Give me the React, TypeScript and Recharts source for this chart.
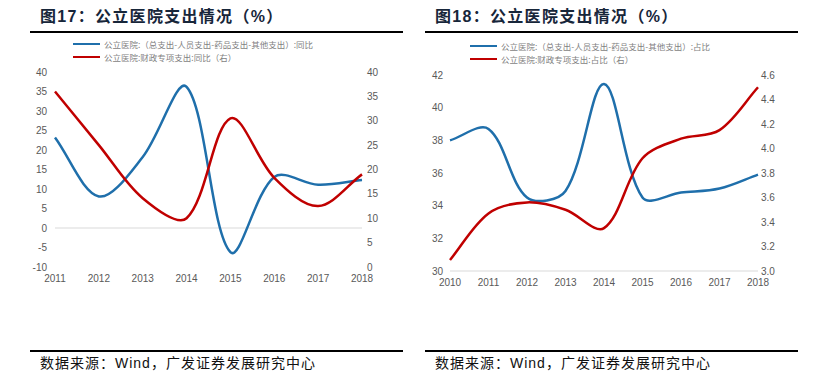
import React from 'react';
import { LineChart, Line, XAxis, YAxis, ReferenceLine } from 'recharts';

// 图17：同比（%）
const years17 = ['2011', '2012', '2013', '2014', '2015', '2016', '2017', '2018'];
const net17 = [23.2, 8.1, 18.2, 36.2, -6.2, 13.1, 11.1, 12.3];
const fiscal17 = [36, 25, 14.1, 10, 30.5, 18.3, 12.5, 19];
const leftTicks17 = [-10, -5, 0, 5, 10, 15, 20, 25, 30, 35, 40];
const rightTicks17 = [0, 5, 10, 15, 20, 25, 30, 35, 40];

// 图18：占比（%）
const years18 = ['2010', '2011', '2012', '2013', '2014', '2015', '2016', '2017', '2018'];
const net18 = [38.0, 38.7, 34.5, 34.9, 41.45, 34.5, 34.8, 35.05, 35.9];
const fiscal18 = [3.09, 3.47, 3.56, 3.5, 3.35, 3.92, 4.08, 4.15, 4.5];
const leftTicks18 = [30, 32, 34, 36, 38, 40, 42];
const rightTicks18 = [3.0, 3.2, 3.4, 3.6, 3.8, 4.0, 4.2, 4.4, 4.6];

const legendNet17 = '公立医院:（总支出-人员支出-药品支出-其他支出）:同比';
const legendFiscal17 = '公立医院:财政专项支出:同比（右）';
const legendNet18 = '公立医院:（总支出-人员支出-药品支出-其他支出）:占比';
const legendFiscal18 = '公立医院:财政专项支出:占比（右）';

const data17 = years17.map((y, i) => ({ year: y, net: net17[i], fiscal: fiscal17[i] }));
const data18 = years18.map((y, i) => ({ year: y, net: net18[i], fiscal: fiscal18[i] }));

const BLUE = '#1f6fab';
const RED = '#c00000';
const GREY = '#595959';
const tickStyle = { fontSize: 10, fill: GREY, fontFamily: '"Liberation Sans", Arial, sans-serif' };

// Excel 风格平滑线：控制点长度按相邻线段长度分配
const smooth = (context: any) => {
  let pts: number[][] = [];
  return {
    areaStart() {},
    areaEnd() {},
    lineStart() {
      pts = [];
    },
    point(x: number, y: number) {
      pts.push([+x, +y]);
    },
    lineEnd() {
      const n = pts.length;
      if (!n) return;
      const dist = (a: number[], b: number[]) => Math.hypot(b[0] - a[0], b[1] - a[1]);
      const outC: number[][] = [];
      const inC: number[][] = [];
      for (let i = 0; i < n; i++) {
        const prev = pts[i - 1] || pts[i];
        const next = pts[i + 1] || pts[i];
        const tx = next[0] - prev[0];
        const ty = next[1] - prev[1];
        const dPrev = dist(prev, pts[i]);
        const dNext = dist(pts[i], next);
        const sum = dPrev + dNext || 1;
        const fOut = dNext / sum / 3;
        const fIn = dPrev / sum / 3;
        outC.push([pts[i][0] + tx * fOut, pts[i][1] + ty * fOut]);
        inC.push([pts[i][0] - tx * fIn, pts[i][1] - ty * fIn]);
      }
      context.moveTo(pts[0][0], pts[0][1]);
      for (let i = 0; i < n - 1; i++) {
        context.bezierCurveTo(outC[i][0], outC[i][1], inC[i + 1][0], inC[i + 1][1], pts[i + 1][0], pts[i + 1][1]);
      }
    },
  };
};

const font = '"Liberation Sans", Arial, "Noto Sans CJK SC", sans-serif';

const Title = ({ left, text }: { left: number; text: string }) => (
  <div
    style={{
      position: 'absolute',
      left,
      top: 6,
      fontSize: 16,
      fontWeight: 'bold',
      color: '#17263a',
      fontFamily: font,
      letterSpacing: 1.3,
      whiteSpace: 'nowrap',
      lineHeight: '22px',
    }}
  >
    {text}
  </div>
);

const Rule = ({ left, width, top }: { left: number; width: number; top: number }) => (
  <div style={{ position: 'absolute', left, top, width, height: 1.5, background: '#000' }} />
);

const LegendRow = ({ left, top, color, text }: { left: number; top: number; color: string; text: string }) => (
  <div style={{ position: 'absolute', left, top: top - 7, height: 14, display: 'flex', alignItems: 'center' }}>
    <div style={{ width: 27, height: 2.5, background: color, marginRight: 4 }} />
    <span style={{ fontSize: 8.5, color: '#7f7f7f', fontFamily: '"Noto Sans CJK SC", sans-serif', whiteSpace: 'nowrap' }}>
      {text}
    </span>
  </div>
);

const Source = ({ left }: { left: number }) => (
  <div
    style={{
      position: 'absolute',
      left,
      top: 354,
      fontSize: 14,
      lineHeight: '18px',
      color: '#111',
      fontFamily: font,
      letterSpacing: 1,
      whiteSpace: 'nowrap',
    }}
  >
    数据来源：Wind，广发证券发展研究中心
  </div>
);

export default function App() {
  return (
    <div style={{ position: 'absolute', left: 0, top: 0, width: 830, height: 385, background: '#fff', overflow: 'hidden' }}>
      <Title left={40} text="图17：公立医院支出情况（%）" />
      <Title left={435} text="图18：公立医院支出情况（%）" />
      <Rule left={30} width={373} top={31} />
      <Rule left={425} width={373} top={31} />

      <LegendRow left={73} top={44} color={BLUE} text={legendNet17} />
      <LegendRow left={73} top={57} color={RED} text={legendFiscal17} />
      <LegendRow left={470} top={46} color={BLUE} text={legendNet18} />
      <LegendRow left={470} top={59} color={RED} text={legendFiscal18} />

      <div style={{ position: 'absolute', left: 0, top: 0 }}>
        <LineChart width={415} height={300} data={data17} margin={{ top: 72, right: 0, bottom: 13, left: 0 }}>
          <XAxis dataKey="year" axisLine={false} tickLine={false} tick={tickStyle} height={20} interval={0} />
          <YAxis
            yAxisId="left"
            width={55}
            domain={[-10, 40]}
            ticks={leftTicks17}
            axisLine={false}
            tickLine={false}
            tick={tickStyle}
            interval={0}
          />
          <YAxis
            yAxisId="right"
            orientation="right"
            width={53}
            domain={[0, 40]}
            ticks={rightTicks17}
            axisLine={false}
            tickLine={false}
            tickSize={3}
            tickMargin={2}
            tick={{ ...tickStyle, textAnchor: 'start' }}
            interval={0}
          />
          <ReferenceLine yAxisId="left" y={0} stroke="#d9d9d9" strokeWidth={1} />
          <Line yAxisId="left" dataKey="net" type={smooth as any} stroke={BLUE} strokeWidth={2.5} dot={false} isAnimationActive={false} />
          <Line yAxisId="right" dataKey="fiscal" type={smooth as any} stroke={RED} strokeWidth={2.5} dot={false} isAnimationActive={false} />
        </LineChart>
      </div>

      <div style={{ position: 'absolute', left: 415, top: 0 }}>
        <LineChart width={415} height={300} data={data18} margin={{ top: 75, right: 0, bottom: 9, left: 0 }}>
          <XAxis dataKey="year" axisLine={{ stroke: '#d9d9d9' }} tickLine={false} tick={tickStyle} height={20} interval={0} />
          <YAxis
            yAxisId="left"
            width={35}
            domain={[30, 42]}
            ticks={leftTicks18}
            axisLine={false}
            tickLine={false}
            tickSize={5}
            tickMargin={2}
            tick={tickStyle}
            interval={0}
          />
          <YAxis
            yAxisId="right"
            orientation="right"
            width={72}
            domain={[3.0, 4.6]}
            ticks={rightTicks18}
            axisLine={false}
            tickLine={false}
            tickSize={1}
            tickMargin={2}
            tick={{ ...tickStyle, textAnchor: 'start' }}
            tickFormatter={(v: number) => v.toFixed(1)}
            interval={0}
          />
          <Line yAxisId="left" dataKey="net" type={smooth as any} stroke={BLUE} strokeWidth={2.5} dot={false} isAnimationActive={false} />
          <Line yAxisId="right" dataKey="fiscal" type={smooth as any} stroke={RED} strokeWidth={2.5} dot={false} isAnimationActive={false} />
        </LineChart>
      </div>

      <Rule left={30} width={373} top={350} />
      <Rule left={425} width={373} top={350} />
      <Source left={40} />
      <Source left={435} />
    </div>
  );
}
